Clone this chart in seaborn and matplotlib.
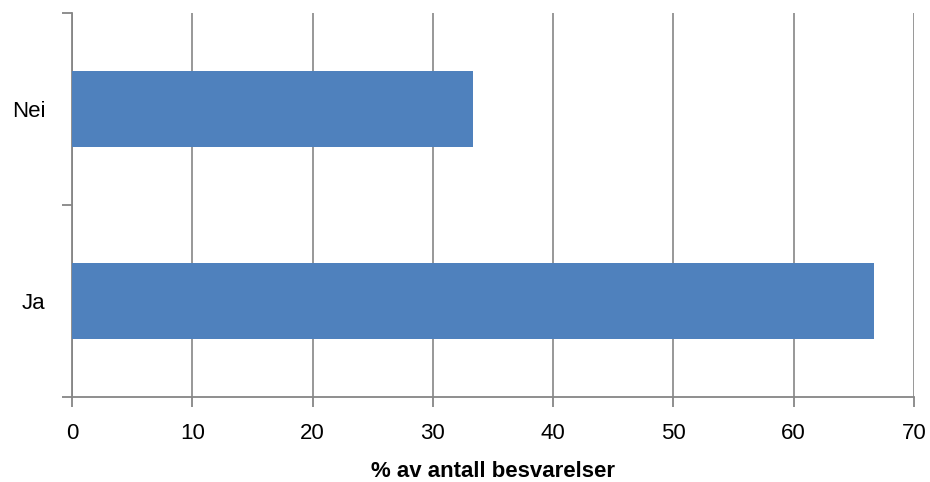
import seaborn as sns
import matplotlib.pyplot as plt
import pandas as pd

# data
svar = ['Nei', 'Ja']
prosent = [33.3, 66.7]
xticks = [0, 10, 20, 30, 40, 50, 60, 70]

df = pd.DataFrame({'svar': svar, 'prosent': prosent})

sns.set_style('white')
plt.rcParams['font.family'] = ['Liberation Sans', 'DejaVu Sans']
plt.rcParams['text.color'] = 'black'
plt.rcParams['xtick.color'] = 'black'
plt.rcParams['ytick.color'] = 'black'
plt.rcParams['axes.labelcolor'] = 'black'

fig = plt.figure(figsize=(9.3, 4.82), dpi=100)
ax = fig.add_axes([0.0774, 0.1763, 0.9054, 0.7967])

sns.barplot(data=df, x='prosent', y='svar', order=svar, orient='h',
            color='#4F81BD', saturation=1, width=0.4, linewidth=0, ax=ax, zorder=3)

ax.set_xlim(0, 70)
ax.set_ylim(1.5, -0.5)
ax.set_xticks(xticks)
ax.set_xticklabels([str(t) for t in xticks], fontsize=16)

# y: ticks between categories, labels at centers
ax.set_yticks([-0.5, 0.5, 1.5])
ax.set_yticklabels([])
ax.set_yticks([0, 1], minor=True)
ax.set_yticklabels(svar, minor=True, fontsize=16)
ax.tick_params(axis='y', which='minor', length=0, pad=19)
ax.tick_params(axis='y', which='major', length=7, width=1.3, color='#868686', direction='out', left=True)
ax.tick_params(axis='x', length=7, width=1.3, color='#868686', direction='out', bottom=True, pad=12)

ax.grid(axis='x', color='#868686', linewidth=1.2, zorder=0)
ax.grid(axis='y', visible=False)
for s in ['top', 'right']:
    ax.spines[s].set_visible(False)
for s in ['left', 'bottom']:
    ax.spines[s].set_color('#868686')
    ax.spines[s].set_linewidth(1.3)

ax.set_ylabel('')
ax.set_xlabel('% av antall besvarelser', fontsize=16, fontweight='bold', labelpad=12)

fig.savefig('out.png', dpi=100)
